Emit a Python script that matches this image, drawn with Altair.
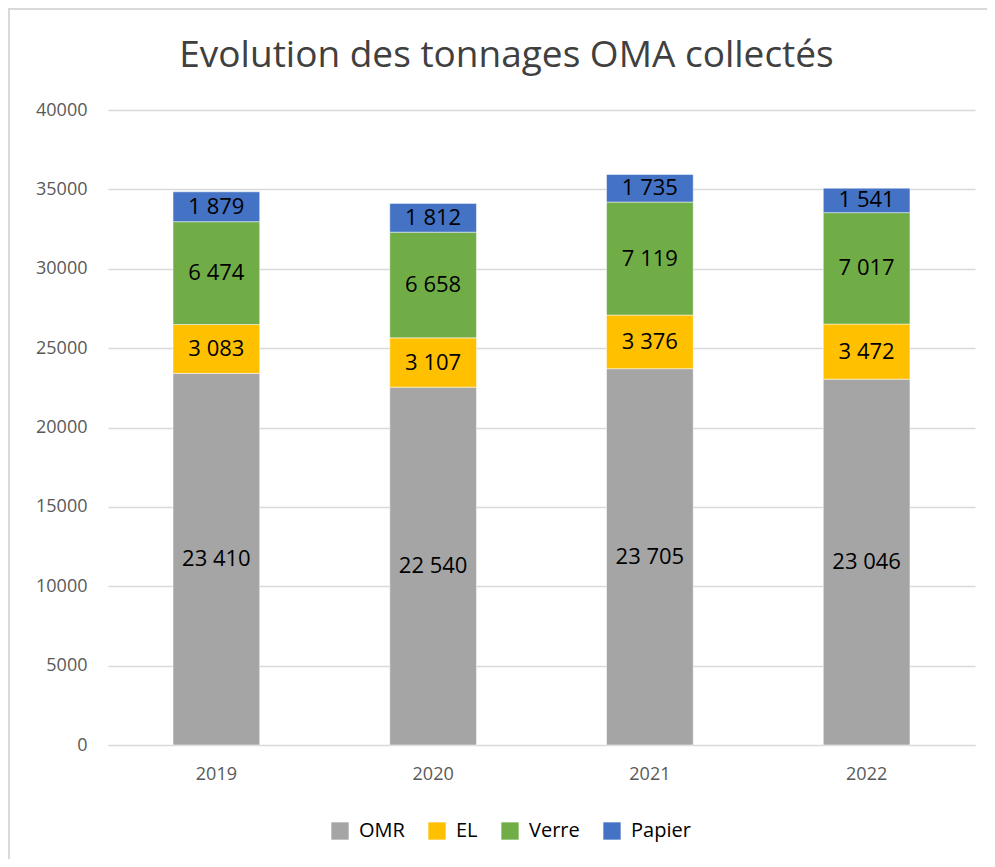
import altair as alt
import pandas as pd

years = ["2019", "2020", "2021", "2022"]
categories = ["OMR", "EL", "Verre", "Papier"]
colors = ["#A5A5A5", "#FFC000", "#70AD47", "#4472C4"]
omr = [23410, 22540, 23705, 23046]
el = [3083, 3107, 3376, 3472]
verre = [6474, 6658, 7119, 7017]
papier = [1879, 1812, 1735, 1541]
y_ticks = [0, 5000, 10000, 15000, 20000, 25000, 30000, 35000, 40000]

series = {"OMR": omr, "EL": el, "Verre": verre, "Papier": papier}
rows = []
for ci, cat in enumerate(categories):
    for yi, yr in enumerate(years):
        v = series[cat][yi]
        rows.append({"year": yr, "cat": cat, "rank": ci, "value": v,
                     "label": f"{v:,}".replace(",", " ")})
df = pd.DataFrame(rows)

FONT = "Open Sans"

base = alt.Chart(df).transform_stack(
    stack="value", groupby=["year"], as_=["y0", "y1"],
    sort=[alt.SortField("rank", order="ascending")]
).transform_calculate(mid="(datum.y0 + datum.y1) / 2")

x_enc = alt.X("year:N", title=None, sort=years,
              scale=alt.Scale(paddingInner=0.6, paddingOuter=0.3),
              axis=alt.Axis(labelAngle=0, labelFontSize=18, labelColor="#595959",
                            labelFont=FONT, domainColor="#D9D9D9", ticks=False,
                            labelPadding=20))

bars = base.mark_bar(stroke="white", strokeWidth=0.5).encode(
    x=x_enc,
    y=alt.Y("y0:Q", title=None,
            scale=alt.Scale(domain=[0, 40000], nice=False),
            axis=alt.Axis(values=y_ticks, format="d", labelFontSize=18,
                          labelColor="#595959", labelFont=FONT, domain=False,
                          ticks=False, gridColor="#D9D9D9", gridWidth=1.3,
                          labelPadding=21)),
    y2="y1:Q",
    color=alt.Color("cat:N", sort=categories,
                    scale=alt.Scale(domain=categories, range=colors),
                    legend=alt.Legend(title=None, orient="none", direction="horizontal",
                                      legendX=222, legendY=711, symbolType="square",
                                      symbolSize=300, symbolStrokeWidth=0,
                                      symbolOpacity=1, labelFontSize=20,
                                      labelFont=FONT, labelColor="#000000",
                                      columnPadding=22, labelOffset=9)),
)

texts = base.mark_text(fontSize=22, font=FONT, color="#000000", baseline="middle").encode(
    x=alt.X("year:N", sort=years),
    y=alt.Y("mid:Q"),
    text="label:N",
)

frame = alt.Chart(pd.DataFrame({"a": [0]})).mark_rule(color="#D9D9D9", strokeWidth=2).encode(
    x=alt.value(-100), x2=alt.value(900), y=alt.value(-101)
)
frame2 = alt.Chart(pd.DataFrame({"a": [0]})).mark_rule(color="#D9D9D9", strokeWidth=2).encode(
    x=alt.value(-99), y=alt.value(-102), y2=alt.value(760)
)

chart = alt.layer(bars, texts, frame, frame2).properties(
    width=867, height=635,
    autosize=alt.AutoSizeParams(type="none"),
    padding={"left": 100, "top": 102, "right": 12, "bottom": 114},
    title=alt.TitleParams("Evolution des tonnages OMA collectés", fontSize=37,
                          font=FONT, fontWeight="normal", color="#404040",
                          anchor="middle", dx=-35, offset=0, dy=68),
).configure_view(stroke=None)

chart.save("out.html", embed_options={"renderer": "svg", "actions": False})
